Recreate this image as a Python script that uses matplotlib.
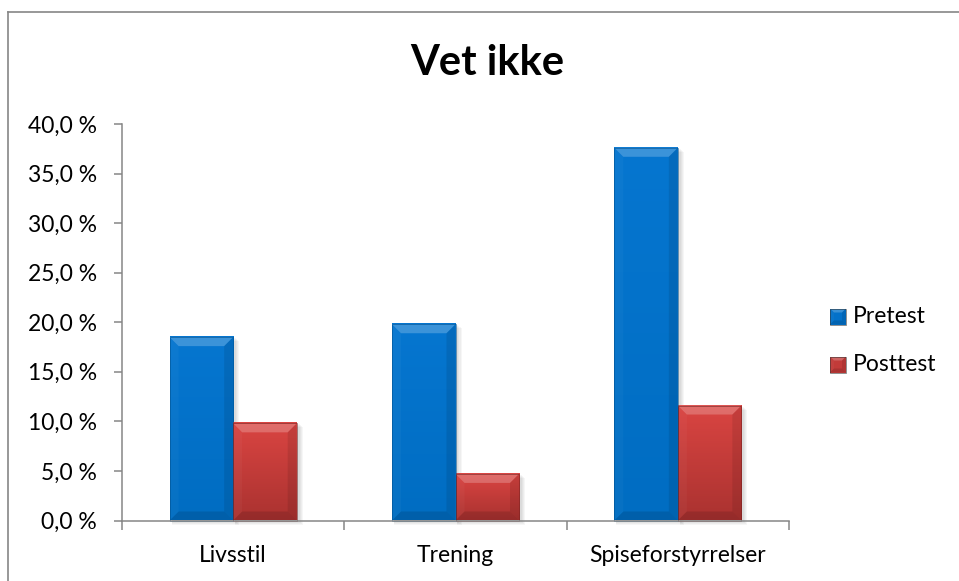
import numpy as np
import matplotlib.pyplot as plt
from matplotlib.patches import Polygon, Rectangle
from matplotlib.lines import Line2D
from matplotlib.colors import LinearSegmentedColormap

plt.rcParams['font.family'] = ['Lato', 'DejaVu Sans']

# data
categories = ['Livsstil', 'Trening', 'Spiseforstyrrelser']
pretest = [18.5, 19.8, 37.6]
posttest = [9.8, 4.7, 11.6]
series_names = ['Pretest', 'Posttest']
yticks = [0, 5, 10, 15, 20, 25, 30, 35, 40]

W, H = 959, 581
fig = plt.figure(figsize=(W / 100, H / 100), dpi=100)
fig.patch.set_facecolor('white')

# plot area in pixels
px0, px1, py_top, py_bot = 122, 789, 124, 520.5
ax = fig.add_axes([px0 / W, (H - py_bot) / H, (px1 - px0) / W, (py_bot - py_top) / H])

ymax = 40
ncat = len(categories)
xpp = ncat / (px1 - px0)          # data x units per pixel
ypp = ymax / (py_bot - py_top)    # data y units per pixel
bw = 1 / 3.5                      # gap width 150 %

blue_cmap = LinearSegmentedColormap.from_list('b', ['#0676d0', '#006dc2'])
red_cmap = LinearSegmentedColormap.from_list('r', ['#da4542', '#aa3230'])
grad = np.linspace(0, 1, 256).reshape(-1, 1)


def bevel(target, x0, y0, x1, y1, bx, by, edge, tr):
    add = target.add_patch if hasattr(target, 'add_patch') else target.add_artist
    kw = dict(transform=tr, linewidth=0, zorder=4, clip_on=False)
    top = Polygon([(x0, y1), (x1, y1), (x1 - bx, y1 - by), (x0 + bx, y1 - by)],
                  facecolor='white', alpha=0.22, **kw)
    bottom = Polygon([(x0, y0), (x1, y0), (x1 - bx, y0 + by), (x0 + bx, y0 + by)],
                     facecolor='black', alpha=0.12, **kw)
    right = Polygon([(x1, y0), (x1, y1), (x1 - bx, y1 - by), (x1 - bx, y0 + by)],
                    facecolor='black', alpha=0.09, **kw)
    left = Polygon([(x0, y0), (x0, y1), (x0 + bx, y1 - by), (x0 + bx, y0 + by)],
                   facecolor='white', alpha=0.03, **kw)
    for p in (top, bottom, right, left):
        add(p)
    add(Rectangle((x0, y0), x1 - x0, y1 - y0, facecolor='none',
                  edgecolor=edge, linewidth=0.7, alpha=0.55,
                  transform=tr, zorder=5, clip_on=False))


def draw_bars(xs, vals, cmap, edge):
    bars = ax.bar(xs, vals, width=bw, color='none', zorder=3)
    for b in bars:
        x0, h = b.get_x(), b.get_height()
        x1 = x0 + b.get_width()
        # soft shadow
        for k in range(1, 5):
            ax.add_patch(Rectangle((x0 + 2 * xpp, -k * ypp), x1 - x0 + k * xpp, h,
                                   facecolor='black', alpha=0.035, linewidth=0,
                                   zorder=2, clip_on=False))
        ax.imshow(grad, extent=[x0, x1, 0, h], aspect='auto', cmap=cmap,
                  origin='upper', zorder=3, interpolation='bilinear')
        bevel(ax, x0, 0, x1, h, 9 * xpp, 9 * ypp, edge, ax.transData)


centers = np.arange(ncat) + 0.5
draw_bars(centers - bw / 2, pretest, blue_cmap, '#004f8c')
draw_bars(centers + bw / 2, posttest, red_cmap, '#6e1f1e')

ax.set_xlim(0, ncat)
ax.set_ylim(0, ymax)

axis_col = '#868686'
for s in ('top', 'right'):
    ax.spines[s].set_visible(False)
for s in ('left', 'bottom'):
    ax.spines[s].set_color(axis_col)
    ax.spines[s].set_linewidth(1.1)
    ax.spines[s].set_zorder(6)

ax.set_yticks(yticks)
ax.set_yticklabels([f'{v:.1f}'.replace('.', ',') + ' %' for v in yticks])
ax.tick_params(axis='y', direction='out', length=6, width=1.1, color=axis_col,
               labelsize=16.5, pad=12, labelcolor='black')

ax.set_xticks(np.arange(ncat + 1))
ax.set_xticklabels([])
ax.set_xticks(centers, minor=True)
ax.set_xticklabels(categories, minor=True)
ax.tick_params(axis='x', which='major', direction='out', length=6.5, width=1.1,
               color=axis_col)
ax.tick_params(axis='x', which='minor', length=0, labelsize=16.5, pad=18,
               labelcolor='black')
ax.patch.set_alpha(0)

fig.text(487 / W, 1 - 63 / H, 'Vet ikke', fontsize=30, fontweight='bold',
         ha='center', va='center')

# legend
leg_items = [(series_names[0], 316.5, blue_cmap), (series_names[1], 364.5, red_cmap)]
for name, yc, cmap in leg_items:
    s = 16
    lx0, ly0 = 830 / W, 1 - (yc + s / 2) / H
    lw, lh = s / W, s / H
    fig.add_artist(Rectangle((lx0, ly0), lw, lh, facecolor=cmap(0.5),
                             transform=fig.transFigure, linewidth=0))
    bevel(fig, lx0, ly0, lx0 + lw, ly0 + lh, 4 / W, 4 / H,
          '#333333', fig.transFigure)
    fig.text(853 / W, 1 - yc / H, name, fontsize=16.5, ha='left', va='center')

# chart frame
fy = 1 - 12 / H
fx = 8 / W
fig.add_artist(Line2D([fx, fx], [0, fy], color=axis_col, linewidth=1.2,
                      transform=fig.transFigure))
fig.add_artist(Line2D([fx, 1], [fy, fy], color=axis_col, linewidth=1.2,
                      transform=fig.transFigure))

fig.savefig('out.png', dpi=100)
